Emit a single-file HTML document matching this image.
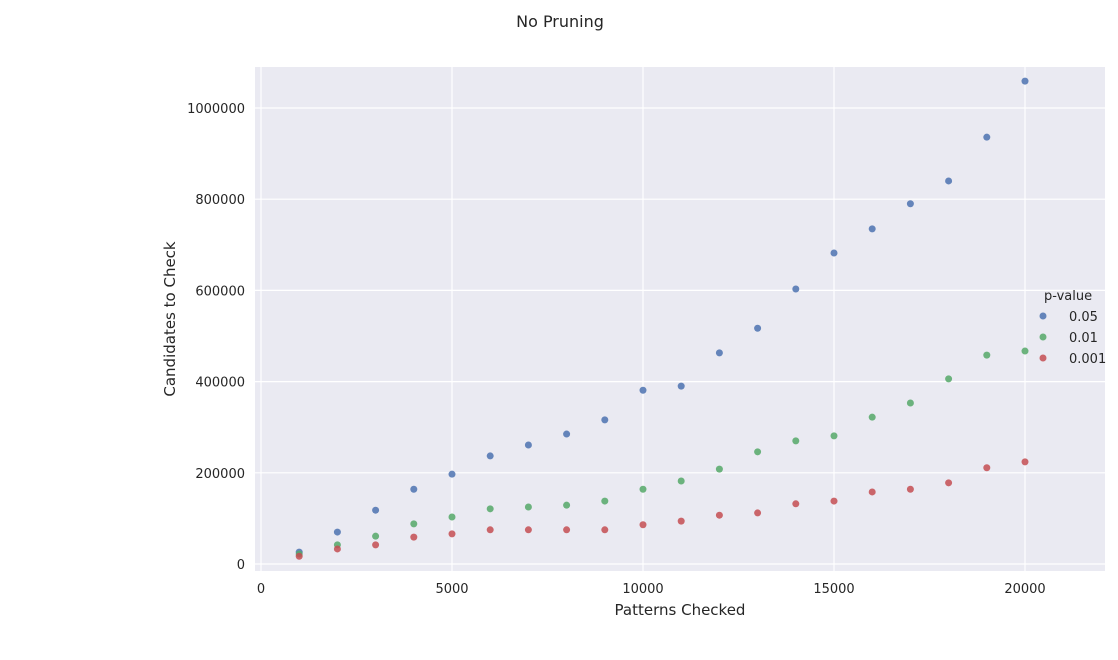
<!DOCTYPE html>
<html><head><meta charset="utf-8"><style>
body{margin:0;background:#fff;font-family:"Liberation Sans","DejaVu Sans",sans-serif}
text{font-family:"DejaVu Sans","Liberation Sans",sans-serif;fill:#262626}
</style></head><body>
<svg id="chart" width="1118" height="655" xmlns="http://www.w3.org/2000/svg">
<text x="560" y="27" text-anchor="middle" font-size="16">No Pruning</text>
<rect x="255" y="67" width="850" height="504" fill="#EAEAF2"/>
<g id="grid"></g>
<g id="xt"></g>
<g id="yt"></g>
<g id="pts"></g>
<text x="680" y="615" text-anchor="middle" font-size="15">Patterns Checked</text>
<text transform="translate(175,319) rotate(-90)" text-anchor="middle" font-size="15">Candidates to Check</text>
<g>
<text x="1044" y="300" font-size="13">p-value</text>
<g id="leg"></g>
</g>
</svg>
<script>
const xs=[1000,2000,3000,4000,5000,6000,7000,8000,9000,10000,11000,12000,13000,14000,15000,16000,17000,18000,19000,20000];
const s005=[26000,70000,118000,164000,197000,237000,261000,285000,316000,381000,390000,463000,517000,603000,682000,735000,790000,840000,936000,1059000];
const s001=[22000,42000,61000,88000,103000,121000,125000,129000,138000,164000,182000,208000,246000,270000,281000,322000,353000,406000,458000,467000];
const s0001=[17000,33000,42000,59000,66000,75000,75000,75000,75000,86000,94000,107000,112000,132000,138000,158000,164000,178000,211000,224000];
const seriesNames=["0.05","0.01","0.001"];
const xTicks=[0,5000,10000,15000,20000];
const yTicks=[0,200000,400000,600000,800000,1000000];
const colors=["#4C72B0","#55A868","#C44E52"];
const X=v=>261+v*0.0382, Y=v=>564-v*0.000456;
const NS="http://www.w3.org/2000/svg";
function mk(t,a,p){const e=document.createElementNS(NS,t);for(const k in a)e.setAttribute(k,a[k]);p.appendChild(e);return e;}
const g=document.getElementById('grid'),xt=document.getElementById('xt'),yt=document.getElementById('yt');
xTicks.forEach(v=>{const l=mk('line',{x1:X(v),x2:X(v),y1:67,y2:571,stroke:'#fff','stroke-width':1.2},g);

const t=mk('text',{x:X(v),y:593,'text-anchor':'middle','font-size':13},xt);t.textContent=v;
});
yTicks.forEach(v=>{const l=mk('line',{x1:255,x2:1105,y1:Y(v),y2:Y(v),stroke:'#fff','stroke-width':1.2},g);

const t=mk('text',{x:245,y:Y(v)+5,'text-anchor':'end','font-size':13},yt);t.textContent=v;
});
const pts=document.getElementById('pts');
[s005,s001,s0001].forEach((s,i)=>{s.forEach((v,j)=>{const c=mk('circle',{cx:X(xs[j]),cy:Y(v),r:3.5,fill:colors[i],'fill-opacity':0.85},pts);
});});
const leg=document.getElementById('leg');
seriesNames.forEach((n,i)=>{const y=316+i*21;
const c=mk('circle',{cx:1043,cy:y,r:3.5,fill:colors[i],'fill-opacity':0.85},leg);

const t=mk('text',{x:1069,y:y+5,'font-size':13},leg);t.textContent=n;
});
</script>
</body></html>
